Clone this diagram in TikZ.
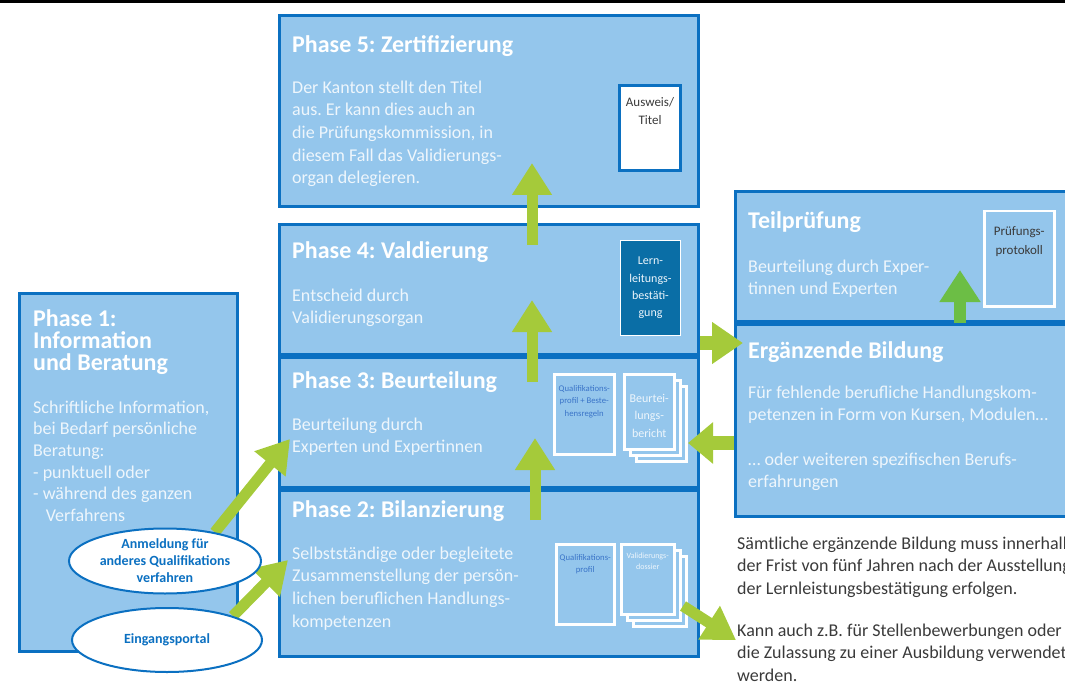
\documentclass[tikz,border=0pt]{standalone}
\usepackage{fontspec}
\setmainfont{Carlito}
\usetikzlibrary{arrows.meta,positioning,shapes.geometric}
\definecolor{vpBlue}{HTML}{94C6EC}
\definecolor{vpLine}{HTML}{0B70C1}
\definecolor{vpGreen}{HTML}{A5CA3A}
\definecolor{vpLeaf}{HTML}{6CBE45}
\definecolor{vpDark}{HTML}{0A6EA6}
\definecolor{vpPale}{HTML}{EEF6FC}
\definecolor{vpInk}{HTML}{3A74C8}
\definecolor{vpGrey}{HTML}{3A3A3A}
\newcommand{\titlefont}{\bfseries\fontsize{24}{22}\selectfont}
\newcommand{\bodyfont}{\fontsize{18}{22.7}\selectfont}
\frenchspacing
\pgfdeclarelayer{front}
\pgfsetlayers{main,front}
\tikzset{
  phasebox/.style={draw=vpLine,fill=vpBlue,line width=3pt,inner sep=0pt,anchor=north west},
  boxtitle/.style={anchor=north west,inner sep=0pt,text=white,font=\titlefont,align=left},
  boxtext/.style={anchor=north west,inner sep=0pt,text=vpPale,font=\bodyfont,align=left},
  page/.style={draw=white,fill=vpBlue,line width=2.5pt,inner sep=0pt,anchor=north west},
  pagelabel/.style={inner sep=0pt,align=center,text=vpInk,font=\fontsize{8.7}{12.5}\selectfont},
  portal/.style={ellipse,draw=vpLine,fill=white,line width=2pt,inner sep=0pt,text=vpLine,
    font=\bfseries\fontsize{14}{17}\selectfont,align=center},
  pusharrow/.style={draw=vpGreen,line width=11pt,-{Triangle[length=32pt,width=38pt]}}
}
% three sheets, the front one named #1
\newcommand{\pagestack}[5]{%
  \node[page,minimum width=#4,minimum height=#5] (#1c) at (#2+12,#3+12) {};
  \node[page,minimum width=#4,minimum height=#5] (#1b) at (#2+6,#3+6) {};
  \node[page,minimum width=#4,minimum height=#5] (#1) at (#2,#3) {};}

\begin{document}
\begin{tikzpicture}[x=1pt,y=-1pt]
        \useasboundingbox (0,0) rectangle (1065,687);
        \fill[black] (0,0) rectangle (1065,3.5);

        \node[phasebox,minimum width=419pt,minimum height=191pt] (p5) at (278,14) {};
        \node[phasebox,minimum width=419pt,minimum height=130pt] (p4) at (278,223) {};
        \node[phasebox,minimum width=419pt,minimum height=130pt,below=0pt of p4] (p3) {};
        \node[phasebox,minimum width=419pt,minimum height=166pt,below=0pt of p3] (p2) {};
        \node[phasebox,minimum width=218pt,minimum height=358pt] (p1) at (18,292) {};
        \node[phasebox,minimum width=345pt,minimum height=130pt] (teil) at (734,190) {};
        \node[phasebox,minimum width=345pt,minimum height=192pt,below=0pt of teil] (erg) {};

        \node[boxtitle] (p5title) at (292,35) {Phase 5: Zertifizierung};
        \node[boxtext] (p5text) at (292,80.5) {Der Kanton stellt den Titel\\aus. Er kann dies auch an\\die Prüfungskommission, in\\diesem Fall das Validierungs-\\organ delegieren.};
        \node[boxtitle] (p4title) at (292,241) {Phase 4: Valdierung};
        \node[boxtext] (p4text) at (292,288.5) {Entscheid durch\\Validierungsorgan};
        \node[boxtitle] (p3title) at (292,371) {Phase 3: Beurteilung};
        \node[boxtext] (p3text) at (292,417.5) {Beurteilung durch\\Experten und Expertinnen};
        \node[boxtitle] (p2title) at (292,500) {Phase 2: Bilanzierung};
        \node[boxtext] (p2text) at (292,546.5) {Selbstständige oder begleitete\\Zusammenstellung der persön-\\lichen beruflichen Handlungs-\\kompetenzen};
        \node[boxtitle] (p1title) at (33,309) {Phase 1:\\Information\\und Beratung};
        \node[boxtext,font=\fontsize{18}{21.6}\selectfont] (p1text) at (33,400.5) {Schriftliche Information,\\bei Bedarf persönliche\\Beratung:\\- punktuell oder\\- während des ganzen\\\hspace*{0.7em}Verfahrens};
        \node[boxtitle] (teiltitle) at (748,211) {Teilprüfung};
        \node[boxtext] (teiltext) at (748,259.5) {Beurteilung durch Exper-\\tinnen und Experten};
        \node[boxtitle] (ergtitle) at (748,341) {Ergänzende Bildung};
        \node[boxtext,font=\fontsize{18}{22.3}\selectfont] (ergtext) at (748,385.5) {Für fehlende berufliche Handlungskom-\\petenzen in Form von Kursen, Modulen…\\[22.3pt]… oder weiteren spezifischen Berufs-\\erfahrungen};
        \node[boxtext,text=vpGrey] (frist) at (737,536.5) {Sämtliche ergänzende Bildung muss innerhalb\\der Frist von fünf Jahren nach der Ausstellung\\der Lernleistungsbestätigung erfolgen.};
        \node[boxtext,text=vpGrey] (verwendung) at (737,623.5) {Kann auch z.B. für Stellenbewerbungen oder\\die Zulassung zu einer Ausbildung verwendet\\werden.};

        \node[page,draw=vpLine,fill=white,line width=3pt,minimum width=61pt,minimum height=85pt] (ausweis) at (618,84) {};
        \node[pagelabel,text=vpGrey,font=\fontsize{13}{18}\selectfont,below=13pt of ausweis.north] (ausweislabel) {Ausweis/\\Titel};
        \node[page,line width=1pt,fill=vpDark,minimum width=60pt,minimum height=95pt,text=vpPale,
          font=\fontsize{12}{17.3}\selectfont,align=center] (lern) at (620,240) {Lern-\\leitungs-\\bestäti-\\gung};
        \node[page,minimum width=60pt,minimum height=80pt] (profil3) at (553,373) {};
        \node[pagelabel,below=12pt of profil3.north] (profil3label) {Qualifikations-\\profil + Beste-\\hensregeln};
        \pagestack{bericht}{623}{373}{50pt}{75pt}
        \node[pagelabel,text=vpPale,font=\fontsize{12}{17.5}\selectfont] (berichtlabel) at ([yshift=-4pt]bericht) {Beurtei-\\lungs-\\bericht};
        \node[page,minimum width=58pt,minimum height=80pt] (profil2) at (555,543) {};
        \node[pagelabel,below=11pt of profil2.north] (profil2label) {Qualifikations-\\profil};
        \pagestack{dossier}{620}{543}{53pt}{70pt}
        \node[pagelabel,text=vpPale,font=\fontsize{8}{10.5}\selectfont,below=10pt of dossier.north] (dossierlabel) {Validierungs-\\dossier};
        \node[page,minimum width=70pt,minimum height=95pt] (protokoll) at (983,210) {};
        \node[pagelabel,text=vpGrey,font=\fontsize{13}{19}\selectfont,below=16pt of protokoll.north] (protokolllabel) {Prüfungs-\\protokoll};

        \begin{pgfonlayer}{front}
          \node[portal,minimum width=192pt,minimum height=65pt] (anmeldung) at (165,561) {Anmeldung für\\anderes Qualifikations\\verfahren};
          \node[portal,minimum width=190pt,minimum height=64pt] (eingang) at (167,640) {Eingangsportal};
        \end{pgfonlayer}

        \coordinate (p3entry) at (290,439);
        \coordinate (p2entry) at (288,560);
        \coordinate (rise5) at (532,163);
        \coordinate (rise4) at (532,300);
        \coordinate (rise3) at (535,438);
        \coordinate (ergentry) at (743,343);
        \coordinate (p3back) at (688,443);
        \coordinate (teilup) at (960,270);
        \coordinate (p2out) at (683,606);
        \coordinate (useentry) at (736,640);

        \draw[pusharrow] (anmeldung.30) -- (p3entry);
        \draw[pusharrow] (eingang.20) -- (p2entry);
        \draw[pusharrow] (rise5 |- 0,245) -- (rise5);
        \draw[pusharrow] (rise4 |- 0,382) -- (rise4);
        \draw[pusharrow] (rise3 |- 0,520) -- (rise3);
        \draw[pusharrow,line width=14pt,-{Triangle[length=31pt,width=40pt]}] (p4.east |- ergentry) -- (ergentry);
        \draw[pusharrow,line width=14pt,-{Triangle[length=25pt,width=40pt]}] (erg.west |- p3back) -- (p3back);
        \draw[pusharrow,draw=vpLeaf,line width=12pt,-{Triangle[length=32pt,width=39pt]}] (teilup |- erg.north) -- (teilup);
        \draw[pusharrow] (p2out) -- (useentry);
      \end{tikzpicture}
\end{document}
